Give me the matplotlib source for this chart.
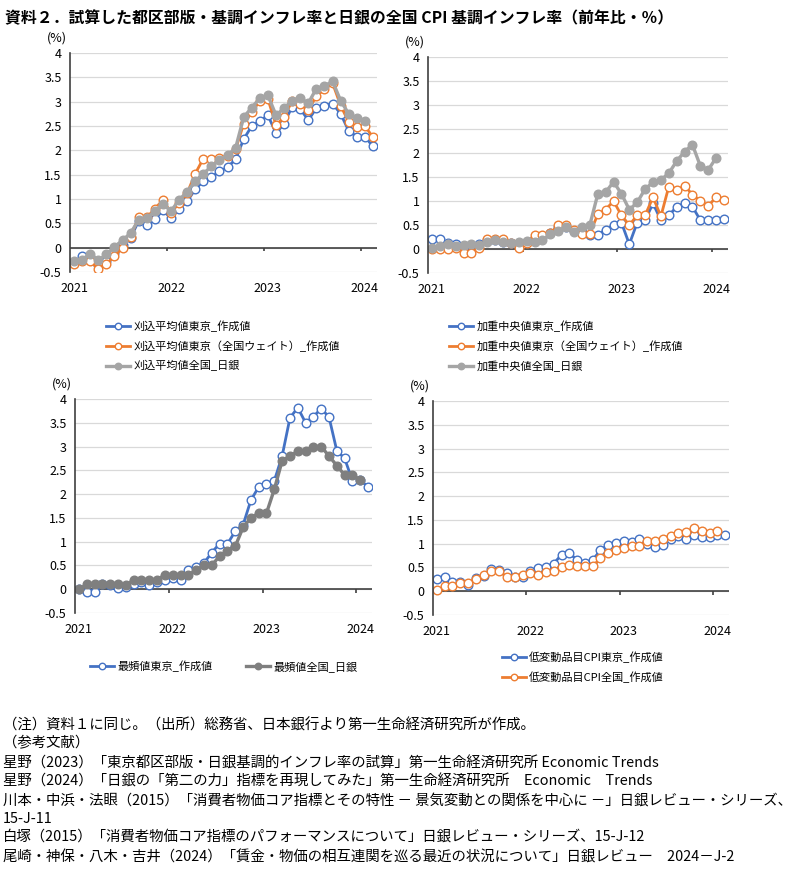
import matplotlib.pyplot as plt
import numpy as np

plt.rcParams['font.family'] = ['Noto Sans CJK JP', 'DejaVu Sans']

# monthly data, 2021-01 .. 2024-02
year_labels = ['2021', '2022', '2023', '2024']
year_pos = [0, 12, 24, 36]
yticks = [-0.5, 0, 0.5, 1, 1.5, 2, 2.5, 3, 3.5, 4]

# panel 1: trimmed mean
trim_tokyo = [-0.30, -0.17, -0.25, -0.35, -0.28, -0.10, 0.05, 0.20, 0.55, 0.47, 0.58, 0.77,
              0.60, 0.80, 0.95, 1.20, 1.37, 1.45, 1.57, 1.65, 1.82, 2.23, 2.50, 2.60,
              2.72, 2.35, 2.55, 2.90, 2.85, 2.62, 2.87, 2.92, 2.96, 2.75, 2.40, 2.28,
              2.28, 2.08]
trim_tokyo_nw = [-0.33, -0.28, -0.28, -0.43, -0.33, -0.18, 0.00, 0.22, 0.63, 0.62, 0.80, 0.98,
                 0.72, 0.92, 1.12, 1.52, 1.83, 1.83, 1.85, 1.88, 2.02, 2.55, 2.78, 3.02,
                 3.05, 2.52, 2.68, 3.02, 2.95, 2.82, 3.12, 3.25, 3.38, 2.92, 2.58, 2.48,
                 2.50, 2.27]
trim_boj = [-0.28, -0.25, -0.12, -0.26, -0.14, 0.02, 0.15, 0.30, 0.57, 0.60, 0.75, 0.90,
            0.75, 0.98, 1.15, 1.37, 1.52, 1.67, 1.80, 1.90, 2.05, 2.68, 2.88, 3.07,
            3.13, 2.72, 2.87, 3.02, 3.07, 2.97, 3.27, 3.32, 3.42, 3.02, 2.75, 2.66,
            2.60]

# panel 2: weighted median
med_tokyo = [0.20, 0.20, 0.12, 0.10, 0.05, 0.08, 0.10, 0.18, 0.18, 0.15, 0.12, 0.10,
             0.15, 0.22, 0.25, 0.33, 0.45, 0.45, 0.38, 0.35, 0.30, 0.30, 0.40, 0.50,
             0.55, 0.10, 0.55, 0.60, 0.95, 0.60, 0.70, 0.88, 0.95, 0.88, 0.60, 0.60,
             0.60, 0.62]
med_tokyo_nw = [0.00, 0.00, 0.00, 0.02, -0.08, -0.08, 0.02, 0.20, 0.20, 0.20, 0.12, 0.02,
                0.12, 0.30, 0.30, 0.33, 0.50, 0.50, 0.40, 0.32, 0.32, 0.72, 0.82, 1.00,
                0.70, 0.50, 0.70, 0.70, 1.08, 0.68, 1.30, 1.22, 1.32, 1.13, 1.00, 0.90,
                1.08, 1.03]
med_boj = [0.02, 0.07, 0.10, 0.07, 0.09, 0.11, 0.09, 0.15, 0.18, 0.15, 0.12, 0.15,
           0.17, 0.14, 0.18, 0.32, 0.38, 0.46, 0.35, 0.46, 0.50, 1.14, 1.18, 1.40,
           1.15, 0.82, 0.97, 1.25, 1.39, 1.44, 1.58, 1.83, 2.03, 2.17, 1.73, 1.65,
           1.90]

# panel 3: mode
mode_tokyo = [0.00, -0.05, -0.05, 0.10, 0.08, 0.02, 0.05, 0.10, 0.15, 0.08, 0.15, 0.20,
              0.23, 0.20, 0.40, 0.47, 0.55, 0.77, 0.96, 0.95, 1.22, 1.35, 1.87, 2.15,
              2.22, 2.28, 2.80, 3.60, 3.82, 3.50, 3.63, 3.80, 3.62, 2.91, 2.75, 2.28,
              2.30, 2.15]
mode_boj = [0.00, 0.10, 0.10, 0.10, 0.10, 0.10, 0.08, 0.20, 0.20, 0.20, 0.20, 0.30,
            0.30, 0.30, 0.30, 0.40, 0.50, 0.50, 0.70, 0.80, 0.90, 1.30, 1.50, 1.60,
            1.60, 2.10, 2.70, 2.80, 2.90, 2.90, 3.00, 3.00, 2.80, 2.60, 2.40, 2.40,
            2.30]

# panel 4: sticky-price CPI
sticky_tokyo = [0.25, 0.30, 0.20, 0.20, 0.14, 0.28, 0.33, 0.46, 0.45, 0.39, 0.30, 0.30,
                0.43, 0.48, 0.50, 0.58, 0.77, 0.81, 0.65, 0.60, 0.65, 0.87, 0.97, 1.02,
                1.06, 1.04, 1.09, 1.00, 0.92, 0.97, 1.09, 1.16, 1.09, 1.18, 1.15, 1.15,
                1.18, 1.18]
sticky_all = [0.02, 0.10, 0.12, 0.18, 0.17, 0.25, 0.35, 0.42, 0.42, 0.30, 0.30, 0.35,
              0.38, 0.35, 0.40, 0.42, 0.50, 0.55, 0.52, 0.52, 0.52, 0.70, 0.80, 0.87,
              0.90, 0.95, 0.95, 1.05, 1.05, 1.10, 1.17, 1.23, 1.25, 1.32, 1.26, 1.23,
              1.27]

BLUE = '#4472C4'
ORANGE = '#ED7D31'
GRAY = '#A5A5A5'
DGRAY = '#7F7F7F'

fig = plt.figure(figsize=(8, 8.74), dpi=100)
W, H = 800, 874


def make_ax(left, top, right, bottom):
    ax = fig.add_axes([left / W, 1 - bottom / H, (right - left) / W, (bottom - top) / H])
    ax.set_xlim(-0.5, 37.5)
    ax.set_ylim(-0.5, 4)
    ax.set_yticks(yticks)
    ax.set_yticklabels(['%g' % v for v in yticks], fontsize=9)
    ax.set_xticks(year_pos, year_labels, fontsize=9)
    ax.tick_params(axis='x', length=0, pad=7)
    ax.tick_params(axis='y', length=0, pad=6)
    for s in ['top', 'right', 'bottom']:
        ax.spines[s].set_visible(False)
    ax.spines['left'].set_color('#404040')
    ax.spines['left'].set_linewidth(1.2)
    ax.grid(axis='y', color='#D9D9D9', lw=0.9)
    ax.set_axisbelow(True)
    ax.axhline(0, color='#404040', lw=1.2, zorder=1)
    ax.vlines([11.5, 23.5, 35.5], -0.07, 0, color='#404040', lw=1.2, zorder=1)
    ax.text(-0.01, 1.07, '(%)', transform=ax.transAxes, ha='right', va='center', fontsize=9)
    return ax


def open_line(ax, y, color, label):
    return ax.plot(range(len(y)), y, color=color, lw=2, marker='o', ms=6.2,
                   mfc='white', mec=color, mew=1.0, label=label)[0]


def filled_line(ax, y, color, label):
    return ax.plot(range(len(y)), y, color=color, lw=2.4, marker='o', ms=6.2,
                   mfc=color, mec=color, label=label)[0]


def legend(ax, handles, x, y, ncol=1):
    ax.legend(handles=handles, loc='upper left', bbox_to_anchor=(x / W, 1 - y / H),
              bbox_transform=fig.transFigure, frameon=False, fontsize=8,
              handlelength=2.2, handletextpad=0.3, labelspacing=0.75,
              markerscale=0.75, ncol=ncol, columnspacing=3.0, borderpad=0)


ax1 = make_ax(70, 53, 377, 272)
h1 = [open_line(ax1, trim_tokyo, BLUE, '刈込平均値東京_作成値'),
      open_line(ax1, trim_tokyo_nw, ORANGE, '刈込平均値東京（全国ウェイト）_作成値'),
      filled_line(ax1, trim_boj, GRAY, '刈込平均値全国_日銀')]
legend(ax1, h1, 100, 315)

ax2 = make_ax(428, 57, 728, 273)
h2 = [open_line(ax2, med_tokyo, BLUE, '加重中央値東京_作成値'),
      open_line(ax2, med_tokyo_nw, ORANGE, '加重中央値東京（全国ウェイト）_作成値'),
      filled_line(ax2, med_boj, GRAY, '加重中央値全国_日銀')]
legend(ax2, h2, 443, 315)

ax3 = make_ax(75, 399, 372, 613)
h3 = [open_line(ax3, mode_tokyo, BLUE, '最頻値東京_作成値'),
      filled_line(ax3, mode_boj, DGRAY, '最頻値全国_日銀')]
legend(ax3, h3, 84, 655, ncol=2)

ax4 = make_ax(433, 401, 729, 615)
h4 = [open_line(ax4, sticky_tokyo, BLUE, '低変動品目CPI東京_作成値'),
      open_line(ax4, sticky_all, ORANGE, '低変動品目CPI全国_作成値')]
legend(ax4, h4, 496, 646)

fig.text(5 / W, 1 - 18 / H,
         '資料２．試算した都区部版・基調インフレ率と日銀の全国 CPI 基調インフレ率（前年比・％）',
         fontsize=11.4, fontweight='bold', va='center', ha='left')

notes = [
    '（注）資料１に同じ。（出所）総務省、日本銀行より第一生命経済研究所が作成。',
    '（参考文献）',
    '星野（2023）「東京都区部版・日銀基調的インフレ率の試算」第一生命経済研究所 Economic Trends',
    '星野（2024）「日銀の「第二の力」指標を再現してみた」第一生命経済研究所　Economic　Trends',
    '川本・中浜・法眼（2015）「消費者物価コア指標とその特性 － 景気変動との関係を中心に －」日銀レビュー・シリーズ、',
    '15-J-11',
    '白塚（2015）「消費者物価コア指標のパフォーマンスについて」日銀レビュー・シリーズ、15-J-12',
    '尾崎・神保・八木・吉井（2024）「賃金・物価の相互連関を巡る最近の状況について」日銀レビュー　2024－J-2',
]
note_y = [725, 743, 763, 781, 801, 819, 837, 857]
for txt, yy in zip(notes, note_y):
    fig.text(3 / W, 1 - yy / H, txt, fontsize=10.4, va='center', ha='left')

fig.savefig('out.png', dpi=100, facecolor='white')
